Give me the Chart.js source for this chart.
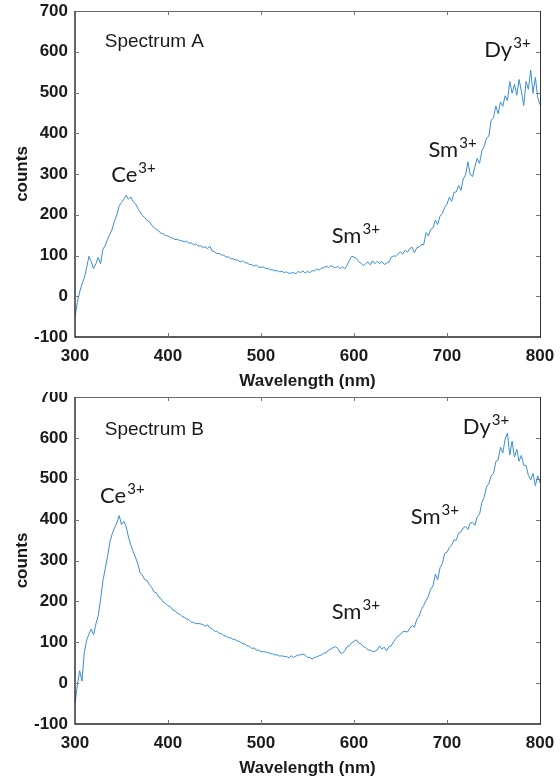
<!DOCTYPE html>
<html>
<head>
<meta charset="utf-8">
<title>Emission spectra</title>
<script src="https://cdn.jsdelivr.net/npm/chart.js@4.4.1/dist/chart.umd.min.js"></script>
<style>
  body { margin: 0; background: #fff; }
  canvas { display: block; }
</style>
</head>
<body>
<canvas id="specA" width="560" height="392"></canvas>
<canvas id="specB" width="560" height="392"></canvas>
<script>
"use strict";

// wavelength grid, 300 - 800 nm every 2.5 nm
const wavelengths = Array.from({ length: 201 }, (_, i) => 300 + i * 2.5);

const xTicks = [300, 400, 500, 600, 700, 800];
const yTicks = [-100, 0, 100, 200, 300, 400, 500, 600, 700];

// Spectrum A counts
const countsA = [
  -50, -15, 10, 30, 45, 70, 98, 85, 68, 80,
  95, 80, 115, 125, 140, 152, 165, 185, 200, 222,
  230, 238, 248, 238, 244, 232, 227, 216, 207, 198,
  193, 186, 183, 174, 169, 163, 161, 154, 153, 149,
  148, 144, 143, 139, 140, 137, 136, 134, 135, 130,
  131, 126, 129, 123, 124, 120, 121, 117, 123, 111,
  109, 105, 105, 101, 101, 96, 97, 92, 92, 89,
  89, 84, 87, 82, 82, 78, 78, 74, 77, 71,
  71, 72, 68, 68, 65, 65, 62, 63, 60, 61,
  58, 60, 56, 57, 58, 55, 61, 58, 62, 57,
  61, 58, 63, 62, 67, 64, 69, 70, 74, 70,
  75, 72, 70, 73, 68, 72, 67, 76, 88, 98,
  96, 93, 85, 81, 75, 80, 84, 77, 87, 80,
  86, 80, 85, 78, 81, 84, 96, 99, 98, 104,
  109, 103, 113, 108, 117, 120, 107, 119, 121, 127,
  127, 156, 148, 164, 168, 187, 176, 197, 203, 218,
  226, 243, 233, 255, 256, 272, 260, 288, 298, 330,
  298, 294, 318, 338, 326, 357, 368, 388, 393, 432,
  438, 467, 448, 477, 466, 492, 480, 527, 498, 520,
  493, 532, 503, 468, 527, 508, 555, 498, 537, 488,
  470
];

// Spectrum B counts
const countsB = [
  -50, -5, 30, 5, 75, 105, 120, 132, 118, 145,
  165, 205, 250, 280, 310, 345, 365, 380, 392, 410,
  388, 396, 383, 357, 338, 322, 308, 292, 270, 264,
  253, 251, 241, 234, 223, 221, 210, 207, 198, 195,
  189, 187, 179, 177, 171, 169, 163, 161, 157, 155,
  149, 149, 145, 146, 145, 143, 139, 143, 135, 133,
  127, 127, 122, 121, 116, 115, 111, 111, 107, 106,
  103, 101, 97, 96, 91, 90, 85, 86, 81, 81,
  77, 77, 76, 75, 72, 72, 69, 69, 66, 67,
  65, 65, 62, 67, 63, 66, 69, 69, 71, 69,
  63, 63, 59, 63, 64, 67, 69, 73, 74, 81,
  83, 87, 89, 85, 75, 73, 79, 89, 91, 99,
  102, 106, 98, 96, 89, 87, 81, 81, 77, 78,
  81, 91, 83, 88, 79, 89, 91, 101, 109, 115,
  119, 126, 127, 125, 134, 141, 137, 156, 164, 180,
  190, 202, 213, 230, 238, 267, 253, 282, 293, 317,
  320, 332, 338, 350, 350, 367, 370, 380, 383, 376,
  392, 393, 386, 407, 413, 442, 456, 480, 488, 507,
  513, 542, 546, 577, 563, 597, 612, 558, 592, 553,
  572, 543, 557, 533, 532, 508, 497, 513, 483, 507,
  490
];

// peak labels: [text, superscript, wavelength, counts]
const notesA = [
  ['Ce', '3+', 339, 298],
  ['Sm', '3+', 576, 148],
  ['Sm', '3+', 680, 359],
  ['Dy', '3+', 740, 605]
];
const notesB = [
  ['Ce', '3+', 327, 458],
  ['Sm', '3+', 576, 174],
  ['Sm', '3+', 661, 407],
  ['Dy', '3+', 717, 627]
];

const LINE_COLOR = '#3a8ed4';
const AXIS_FONT = { family: '"Liberation Sans", Arial, sans-serif', size: 17, weight: 'bold' };

// box frame, inward tick marks and text labels, MATLAB style
const framePlugin = {
  id: 'frame',
  afterDraw(chart, args, opts) {
    const { ctx, chartArea: a, scales: { x, y } } = chart;
    ctx.save();
    ctx.lineWidth = 1;
    ctx.strokeStyle = '#6a6a6a';
    ctx.beginPath();
    ctx.moveTo(a.left, a.top + 0.5);
    ctx.lineTo(a.right + 0.5, a.top + 0.5);
    ctx.stroke();
    ctx.strokeStyle = '#333';
    ctx.beginPath();
    ctx.moveTo(a.right + 0.5, a.top);
    ctx.lineTo(a.right + 0.5, a.bottom);
    ctx.stroke();

    ctx.strokeStyle = '#262626';
    ctx.lineWidth = 1.4;
    ctx.beginPath();
    ctx.moveTo(a.left, a.top);
    ctx.lineTo(a.left, a.bottom);
    ctx.lineTo(a.right + 1, a.bottom);
    ctx.stroke();

    ctx.lineWidth = 1;
    ctx.strokeStyle = '#777';
    const len = 4;
    ctx.beginPath();
    xTicks.slice(1, -1).forEach(v => {
      const px = Math.round(x.getPixelForValue(v)) + 0.5;
      ctx.moveTo(px, a.bottom); ctx.lineTo(px, a.bottom - len);
      ctx.moveTo(px, a.top); ctx.lineTo(px, a.top + len);
    });
    yTicks.slice(1, -1).forEach(v => {
      const py = Math.round(y.getPixelForValue(v)) + 0.5;
      ctx.moveTo(a.left, py); ctx.lineTo(a.left + len, py);
      ctx.moveTo(a.right, py); ctx.lineTo(a.right - len, py);
    });
    ctx.stroke();

    // spectrum name
    ctx.fillStyle = '#1a1a1a';
    ctx.textBaseline = 'middle';
    ctx.textAlign = 'left';
    ctx.font = '19px "Liberation Sans", Arial, sans-serif';
    ctx.fillText(opts.title, x.getPixelForValue(332), y.getPixelForValue(opts.titleAt));

    // ion labels with superscript charge
    opts.notes.forEach(([txt, sup, wl, c]) => {
      const px = x.getPixelForValue(wl);
      const py = y.getPixelForValue(c);
      ctx.font = '22px Lato, "Open Sans", sans-serif';
      ctx.fillText(txt, px, py);
      const w = ctx.measureText(txt).width;
      ctx.font = '15px Lato, "Open Sans", sans-serif';
      ctx.fillText(sup, px + w + 1, py - 7);
    });
    ctx.restore();
  }
};

function makeChart(id, counts, title, titleAt, notes, topPad, xHeight, titlePad) {
  const points = wavelengths.map((w, i) => ({ x: w, y: counts[i] }));
  return new Chart(document.getElementById(id), {
    type: 'line',
    data: {
      datasets: [{
        data: points,
        borderColor: LINE_COLOR,
        borderWidth: 1,
        pointRadius: 0,
        tension: 0,
        fill: false
      }]
    },
    options: {
      responsive: false,
      animation: false,
      devicePixelRatio: 1,
      layout: { padding: { top: topPad, right: 20, left: 0, bottom: 0 } },
      plugins: {
        legend: { display: false },
        tooltip: { enabled: false },
        frame: { title: title, titleAt: titleAt, notes: notes }
      },
      scales: {
        x: {
          type: 'linear',
          min: 300,
          max: 800,
          grid: { display: false, drawTicks: false },
          border: { display: false },
          afterBuildTicks: s => { s.ticks = xTicks.map(v => ({ value: v })); },
          afterFit: s => { s.height = xHeight; s.paddingLeft = 0; s.paddingRight = 0; },
          ticks: { color: '#1a1a1a', font: AXIS_FONT, padding: 9, maxRotation: 0 },
          title: {
            display: true,
            text: 'Wavelength (nm)',
            color: '#1a1a1a',
            font: AXIS_FONT,
            padding: { top: 0, bottom: titlePad }
          }
        },
        y: {
          min: -100,
          max: 700,
          grid: { display: false, drawTicks: false },
          border: { display: false },
          afterBuildTicks: s => { s.ticks = yTicks.map(v => ({ value: v })); },
          afterFit: s => { s.width = 75; s.paddingTop = 0; s.paddingBottom = 0; },
          ticks: { color: '#1a1a1a', font: AXIS_FONT, padding: 7 },
          title: {
            display: true,
            text: 'counts',
            color: '#1a1a1a',
            font: AXIS_FONT,
            padding: { top: 12, bottom: 0 }
          }
        }
      }
    },
    plugins: [framePlugin]
  });
}

makeChart('specA', countsA, 'Spectrum A', 625, notesA, 11, 55, 0);
makeChart('specB', countsB, 'Spectrum B', 620, notesB, 5, 60, 5);
</script>
</body>
</html>
